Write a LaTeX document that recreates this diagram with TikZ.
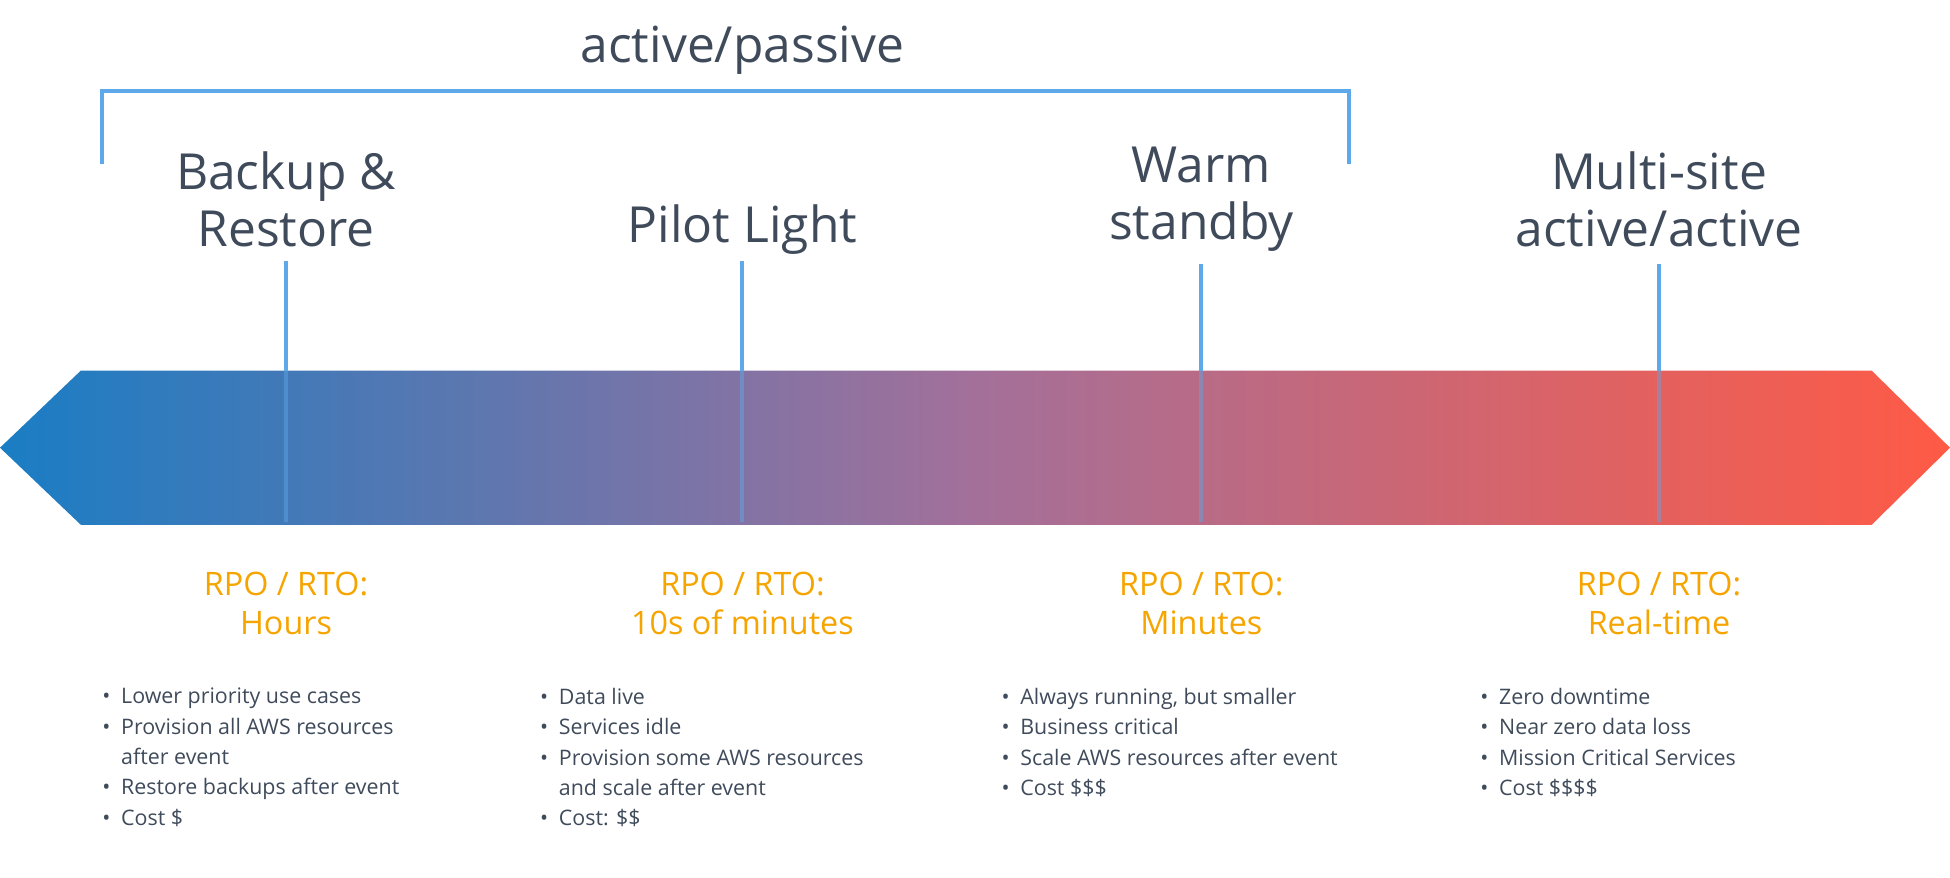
\documentclass[tikz,border=0pt]{standalone}
\usepackage{fontspec}
\setmainfont{Open Sans}
\usetikzlibrary{positioning}
\definecolor{slate}{HTML}{3F4B5B}
\definecolor{rpo}{HTML}{F5A400}
\definecolor{tick}{HTML}{5DA9E9}
\definecolor{bandL}{HTML}{1A7DC4}
\definecolor{bandM}{HTML}{A3709A}
\definecolor{bandR}{HTML}{FF5A45}
\tikzset{
  stage/.style={text=slate, font=\fontsize{20}{23}\selectfont, align=center},
  rpolabel/.style={text=rpo, font=\fontsize{13}{15.5}\selectfont, align=center},
  bullets/.style={text=slate, font=\fontsize{8.6}{12.2}\selectfont, align=left, anchor=north west, inner sep=0pt},
  tickline/.style={tick, line width=1.6pt}
}
\begin{document}
\begin{tikzpicture}[x=0.5pt,y=-0.5pt]
\useasboundingbox (0,0) rectangle (1568,706);
% gradient band
\shade[left color=bandL, right color=bandR, middle color=bandM]
  (0,360) -- (65,298) -- (1505,298) -- (1568,360) -- (1505,422) -- (65,422) -- cycle;
% bracket
\node[stage] (ap) at (597,40) {active/passive};
\coordinate (bl) at (82,132);
\coordinate (br) at (1085,132);
\draw[tickline] (bl) -- (82,73) -- (1085,73) -- (br);
% stages
\node[stage] (br1) at (230,160) {Backup \&\\Restore};
\node[stage] (pl) at (597,185) {Pilot Light};
\node[stage] (ws) at (966,160) {Warm\\standby};
\node[stage] (ms) at (1334,160) {Multi-site\\active/active};
\foreach \x/\y in {230/210, 597/210, 966/212, 1334/212} {
  \coordinate (t\x) at (\x,\y);
  \coordinate (b\x) at (\x,420);
  \draw[tickline] (t\x) -- (\x,298);
  \draw[tickline, opacity=0.45] (\x,298) -- (b\x);
}
% RPO / RTO
\node[rpolabel] (r1) at (230,485) {RPO / RTO:\\Hours};
\node[rpolabel] (r2) at (597,485) {RPO / RTO:\\10s of minutes};
\node[rpolabel] (r3) at (966,485) {RPO / RTO:\\Minutes};
\node[rpolabel] (r4) at (1334,485) {RPO / RTO:\\Real-time};
% bullet lists
\node[bullets] (l1) at (82,553) {•\enspace Lower priority use cases\\•\enspace Provision all AWS resources\\\phantom{•}\enspace after event\\•\enspace Restore backups after event\\•\enspace Cost \$};
\node[bullets] (l2) at (434,553) {•\enspace Data live\\•\enspace Services idle\\•\enspace Provision some AWS resources\\\phantom{•}\enspace and scale after event\\•\enspace Cost: \$\$};
\node[bullets] (l3) at (805,553) {•\enspace Always running, but smaller\\•\enspace Business critical\\•\enspace Scale AWS resources after event\\•\enspace Cost \$\$\$};
\node[bullets] (l4) at (1190,553) {•\enspace Zero downtime\\•\enspace Near zero data loss\\•\enspace Mission Critical Services\\•\enspace Cost \$\$\$\$};
\end{tikzpicture}
\end{document}
